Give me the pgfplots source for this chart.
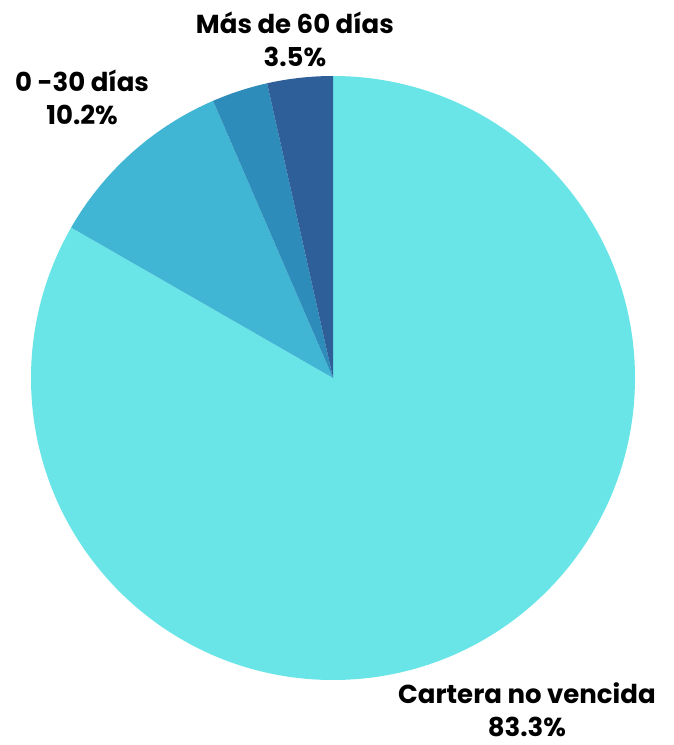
\documentclass[border=0pt]{standalone}
\usepackage{pgfplots}
\pgfplotsset{compat=1.18}
\usepackage{pgfplotstable}
\usepackage{fontspec}
\setmainfont{Poppins}
\definecolor{cA}{HTML}{69E5E8}
\definecolor{cB}{HTML}{41B6D4}
\definecolor{cC}{HTML}{2D8CBA}
\definecolor{cD}{HTML}{2E5F98}
\pgfplotstableread{
label value
Cartera 83.3
d0a30 10.2
d31a60 3.0
mas60 3.5
}\piedata
\begin{document}
\begin{tikzpicture}
\useasboundingbox (0,0) rectangle (673pt,745pt);
\pgfplotstablegetelem{0}{value}\of\piedata \let\vA\pgfplotsretval
\pgfplotstablegetelem{1}{value}\of\piedata \let\vB\pgfplotsretval
\pgfplotstablegetelem{2}{value}\of\piedata \let\vC\pgfplotsretval
\pgfplotstablegetelem{3}{value}\of\piedata \let\vD\pgfplotsretval
\pgfmathsetmacro\aA{90}
\pgfmathsetmacro\aB{\aA-3.6*\vA}
\pgfmathsetmacro\aC{\aB-3.6*\vB}
\pgfmathsetmacro\aD{\aC-3.6*\vC}
\pgfmathsetmacro\aE{\aD-3.6*\vD}
\begin{axis}[at={(333pt,367pt)}, anchor=center, x=302pt, y=302pt,
  xmin=-1, xmax=1, ymin=-1, ymax=1, hide axis, clip=false]
\fill[cA] (axis cs:0,0) -- (axis cs:{cos(\aA)},{sin(\aA)}) arc[start angle=\aA, end angle=\aB, radius=302pt] -- cycle;
\fill[cB] (axis cs:0,0) -- (axis cs:{cos(\aB)},{sin(\aB)}) arc[start angle=\aB, end angle=\aC, radius=302pt] -- cycle;
\fill[cC] (axis cs:0,0) -- (axis cs:{cos(\aC)},{sin(\aC)}) arc[start angle=\aC, end angle=\aD, radius=302pt] -- cycle;
\fill[cD] (axis cs:0,0) -- (axis cs:{cos(\aD)},{sin(\aD)}) arc[start angle=\aD, end angle=\aE, radius=302pt] -- cycle;
\node[align=center, font=\fontsize{26}{33}\selectfont\bfseries] at (axis cs:-0.126,1.122) {Más de 60 días\\3.5\%};
\node[align=center, font=\fontsize{26}{33}\selectfont\bfseries] at (axis cs:-0.831,0.930) {0 -30 días\\10.2\%};
\node[align=center, font=\fontsize{26}{33}\selectfont\bfseries] at (axis cs:0.642,-1.100) {Cartera no vencida\\83.3\%};
\end{axis}
\end{tikzpicture}
\end{document}
